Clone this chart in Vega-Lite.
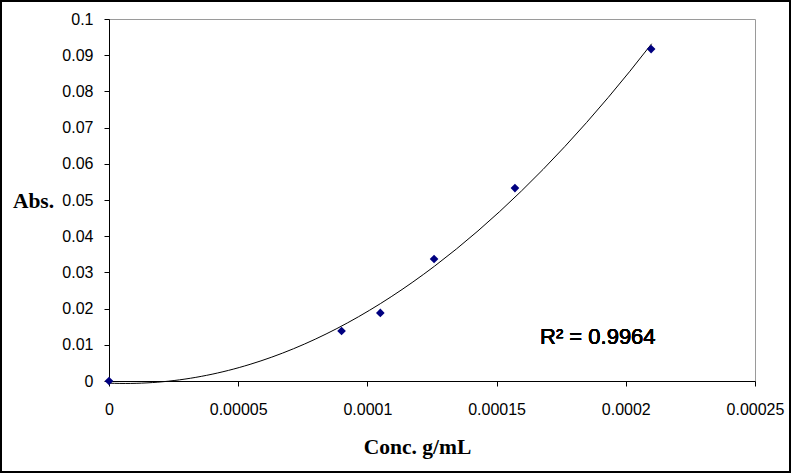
{
  "$schema": "https://vega.github.io/schema/vega-lite/v6.json",
  "width": 646,
  "height": 362,
  "autosize": {"type": "none"},
  "padding": {"left": 109, "top": 19, "right": 39, "bottom": 93},
  "background": "white",
  "config": {
    "view": {"stroke": "#9a9a9a", "strokeWidth": 1},
    "axis": {
      "labelFont": "Liberation Sans",
      "labelFontSize": 16,
      "labelColor": "black",
      "labelOverlap": false,
      "labelFlush": false,
      "titleFont": "Liberation Serif",
      "titleFontSize": 21.5,
      "titleFontWeight": "bold",
      "titleColor": "black",
      "domainColor": "black",
      "tickColor": "black",
      "tickSize": 5,
      "grid": false
    }
  },
  "data": {
    "values": [
      {"conc": 0, "abs": 0},
      {"conc": 0.00009, "abs": 0.0138},
      {"conc": 0.000105, "abs": 0.0188},
      {"conc": 0.0001258, "abs": 0.0337},
      {"conc": 0.0001571, "abs": 0.0533},
      {"conc": 0.0002098, "abs": 0.0917}
    ]
  },
  "encoding": {
    "x": {
      "field": "conc", "type": "quantitative", "title": "Conc. g/mL",
      "scale": {"domain": [0, 0.00025], "nice": false, "zero": false},
      "axis": {
        "values": [0, 0.00005, 0.0001, 0.00015, 0.0002, 0.00025],
        "format": ".5~f",
        "labelOverlap": false,
        "labelFlush": false,
        "labelPadding": 15,
        "titleX": 308,
        "titleY": 66,
        "titleBaseline": "middle",
        "titleAlign": "center"
      }
    },
    "y": {
      "field": "abs", "type": "quantitative", "title": "Abs.",
      "scale": {"domain": [0, 0.1], "nice": false, "zero": false},
      "axis": {
        "values": [0, 0.01, 0.02, 0.03, 0.04, 0.05, 0.06, 0.07, 0.08, 0.09, 0.1],
        "tickCount": 11,
        "format": ".2~f",
        "labelOverlap": false,
        "labelFlush": false,
        "labelPadding": 11,
        "titleAngle": 0,
        "titleX": -76,
        "titleY": 182,
        "titleAlign": "center",
        "titleBaseline": "middle"
      }
    }
  },
  "layer": [
    {
      "mark": {"type": "rect", "fill": null, "stroke": "black", "strokeWidth": 1.5, "clip": false},
      "encoding": {
        "x": {"datum": -0.0000418, "type": "quantitative", "scale": {"domain": [0, 0.00025], "nice": false, "zero": false}, "axis": {"title": "Conc. g/mL"}},
        "x2": {"datum": 0.0002635},
        "y": {"datum": 0.10497, "type": "quantitative", "scale": {"domain": [0, 0.1], "nice": false, "zero": false}, "axis": {"title": "Abs."}},
        "y2": {"datum": -0.02514}
      }
    },
    {
      "transform": [
        {"regression": "abs", "on": "conc", "method": "poly", "order": 2, "extent": [0, 0.00021]}
      ],
      "mark": {"type": "line", "color": "black", "strokeWidth": 1}
    },
    {
      "mark": {"type": "point", "shape": "diamond", "filled": true, "color": "#000080", "size": 75, "opacity": 1}
    },
    {
      "mark": {"type": "text", "text": "R² = 0.9964", "font": "Liberation Sans", "fontSize": 22, "fontWeight": "normal", "align": "left", "baseline": "alphabetic", "fill": "black", "strokeWidth": 0},
      "encoding": {
        "x": {"datum": 0.0001668, "type": "quantitative", "scale": {"domain": [0, 0.00025], "nice": false, "zero": false}, "axis": {"title": "Conc. g/mL"}},
        "y": {"datum": 0.0102, "type": "quantitative", "scale": {"domain": [0, 0.1], "nice": false, "zero": false}, "axis": {"title": "Abs."}}
      }
    }
  ]
}
